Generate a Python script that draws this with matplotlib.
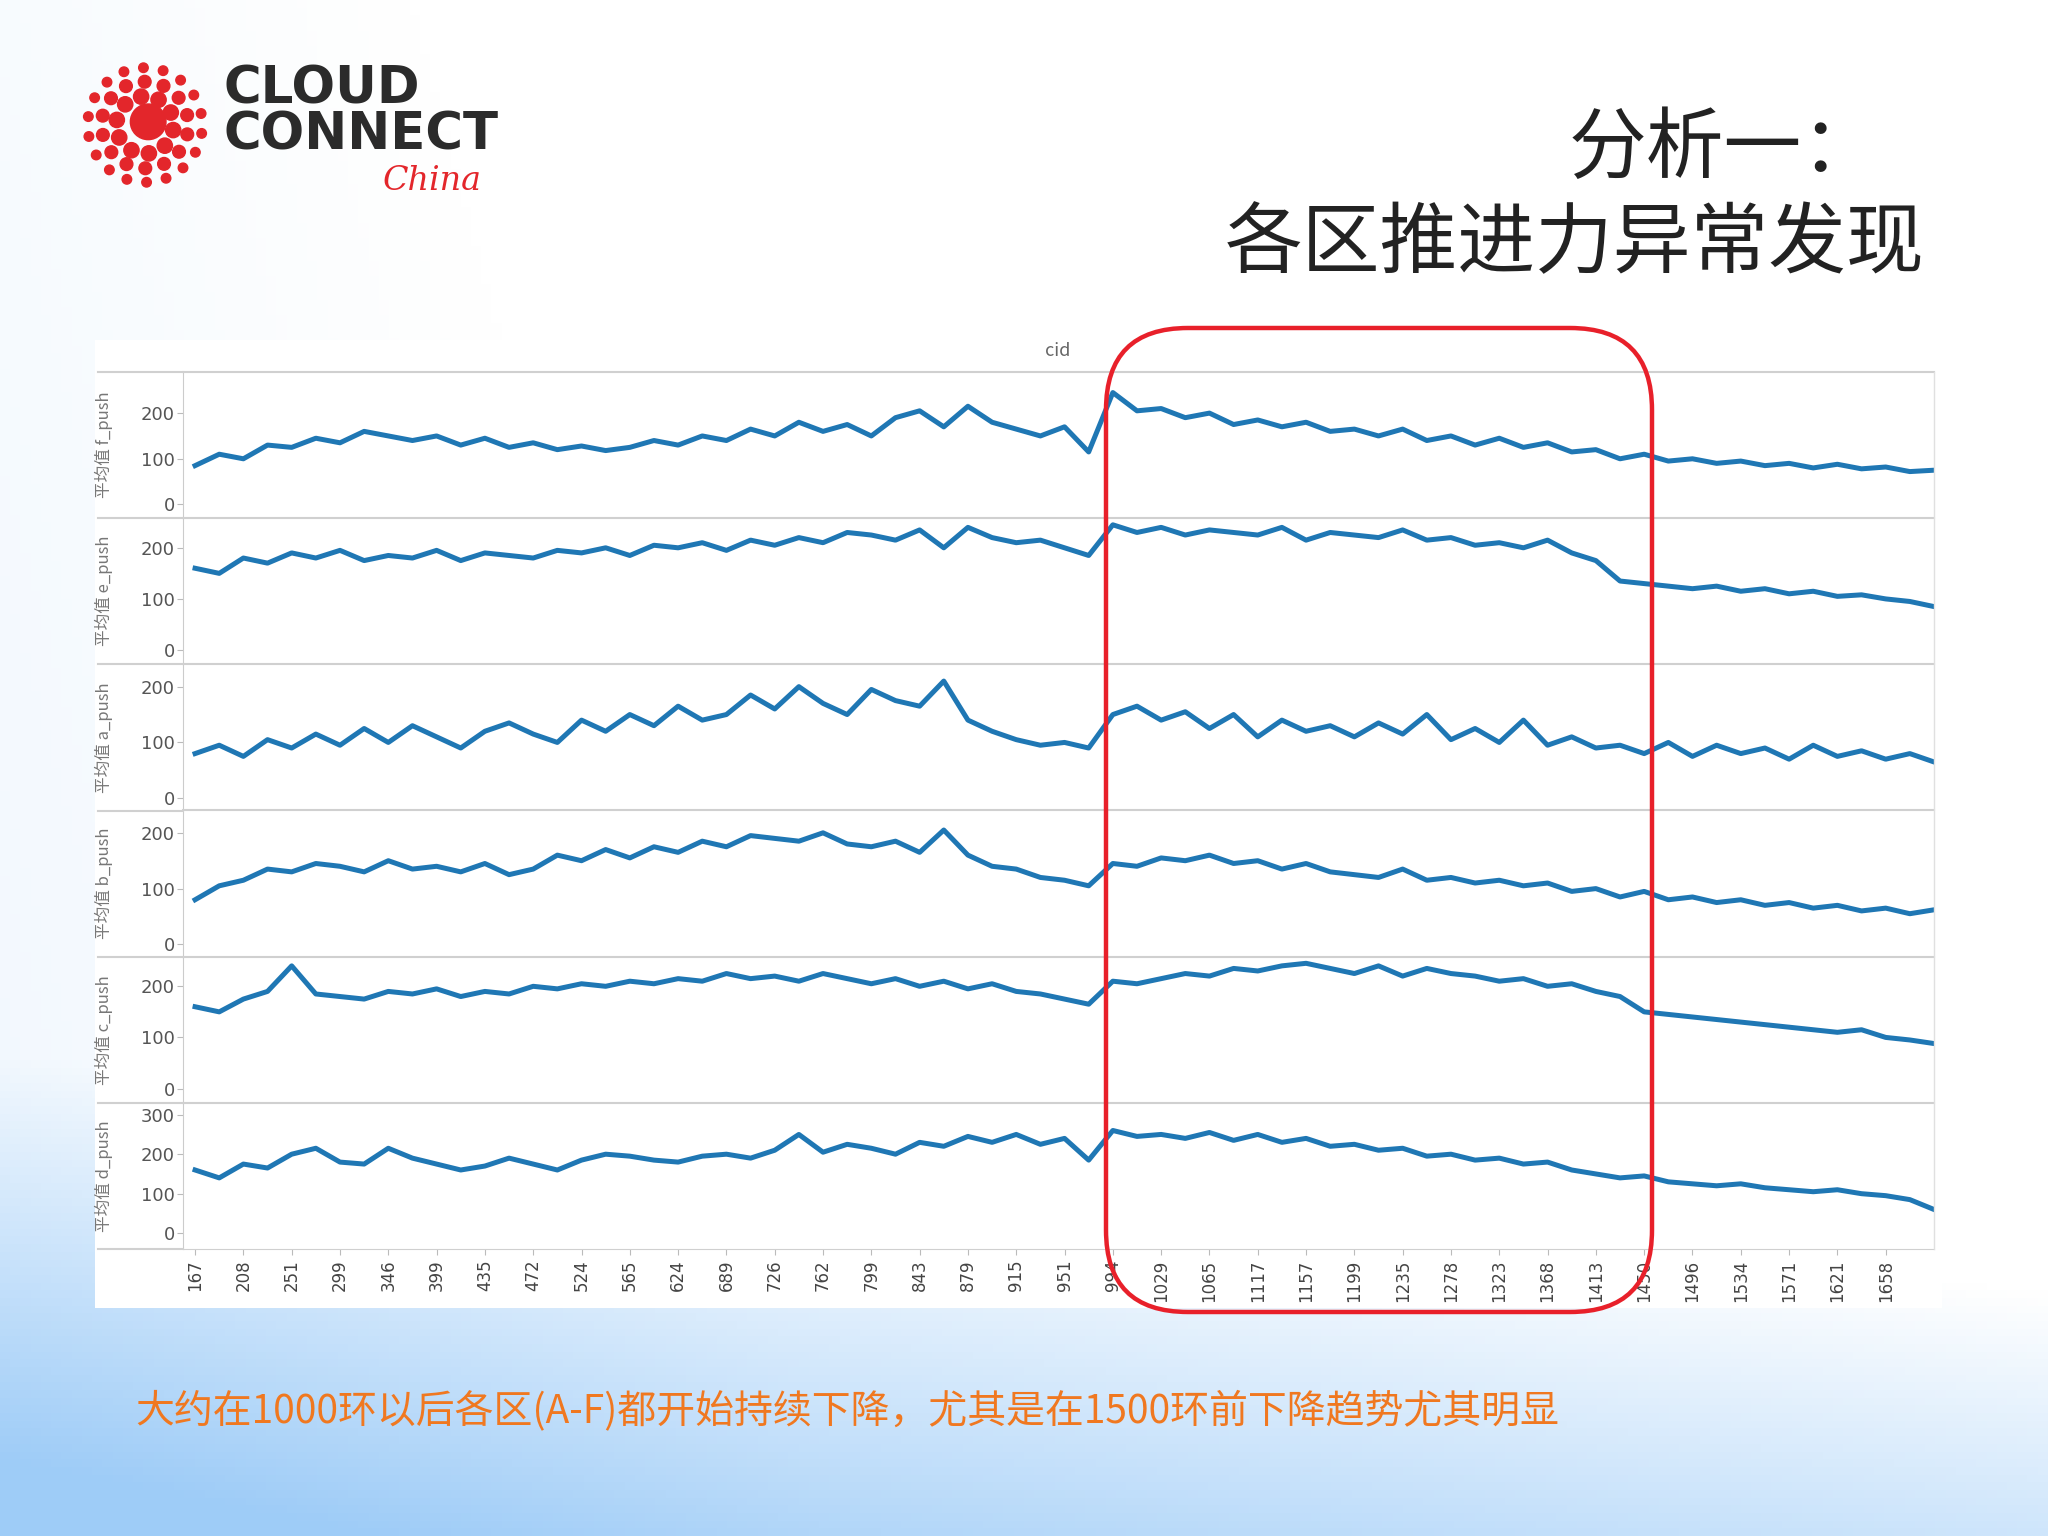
import numpy as np
import matplotlib
matplotlib.use("Agg")
import matplotlib.pyplot as plt
from matplotlib.patches import FancyBboxPatch, Circle

plt.rcParams['font.family'] = ['Noto Sans CJK SC', 'DejaVu Sans']

cid_ticks = ['167','208','251','299','346','399','435','472','524','565','624','689','726','762',
             '799','843','879','915','951','994','1029','1065','1117','1157','1199','1235','1278',
             '1323','1368','1413','1450','1496','1534','1571','1621','1658']

# values sampled every half tick (0, 0.5, ..., 36 in tick units)
f_push = [85,110,100,130,125,145,135,160,150,140,
          150,130,145,125,135,120,128,118,125,140,
          130,150,140,165,150,180,160,175,150,190,
          205,170,215,180,165,150,170,115,245,
          205,210,190,200,175,185,170,180,160,165,
          150,165,140,150,130,145,125,135,115,120,
          100,110,95,100,90,95,85,90,80,88,78,82,72,75]
e_push = [160,150,180,170,190,180,195,175,185,180,
          195,175,190,185,180,195,190,200,185,205,
          200,210,195,215,205,220,210,230,225,215,
          235,200,240,220,210,215,200,185,245,
          230,240,225,235,230,225,240,215,230,225,
          220,235,215,220,205,210,200,215,190,175,
          135,130,125,120,125,115,120,110,115,105,108,100,95,85]
a_push = [80,95,75,105,90,115,95,125,100,130,
          110,90,120,135,115,100,140,120,150,130,
          165,140,150,185,160,200,170,150,195,175,
          165,210,140,120,105,95,100,90,150,
          165,140,155,125,150,110,140,120,130,110,
          135,115,150,105,125,100,140,95,110,90,
          95,80,100,75,95,80,90,70,95,75,85,70,80,65]
b_push = [80,105,115,135,130,145,140,130,150,135,
          140,130,145,125,135,160,150,170,155,175,
          165,185,175,195,190,185,200,180,175,185,
          165,205,160,140,135,120,115,105,145,
          140,155,150,160,145,150,135,145,130,125,
          120,135,115,120,110,115,105,110,95,100,
          85,95,80,85,75,80,70,75,65,70,60,65,55,62]
c_push = [160,150,175,190,240,185,180,175,190,185,
          195,180,190,185,200,195,205,200,210,205,
          215,210,225,215,220,210,225,215,205,215,
          200,210,195,205,190,185,175,165,210,
          205,215,225,220,235,230,240,245,235,225,
          240,220,235,225,220,210,215,200,205,190,
          180,150,145,140,135,130,125,120,115,110,115,100,95,88]
d_push = [160,140,175,165,200,215,180,175,215,190,
          175,160,170,190,175,160,185,200,195,185,
          180,195,200,190,210,250,205,225,215,200,
          230,220,245,230,250,225,240,185,260,
          245,250,240,255,235,250,230,240,220,225,
          210,215,195,200,185,190,175,180,160,150,
          140,145,130,125,120,125,115,110,105,110,100,95,85,60]

series = [("平均值 f_push", f_push, (-30, 290), [0, 100, 200]),
          ("平均值 e_push", e_push, (-28, 258), [0, 100, 200]),
          ("平均值 a_push", a_push, (-22, 240), [0, 100, 200]),
          ("平均值 b_push", b_push, (-22, 240), [0, 100, 200]),
          ("平均值 c_push", c_push, (-28, 258), [0, 100, 200]),
          ("平均值 d_push", d_push, (-40, 330), [0, 100, 200, 300])]

W, H = 2048, 1536
fig = plt.figure(figsize=(20.48, 15.36), dpi=100)

# background: white with soft blue in lower-left
bg = fig.add_axes([0, 0, 1, 1], zorder=-10)
yy, xx = np.mgrid[0:1:200j, 0:1:200j]
grad = np.clip(1.0 - 3.2 * yy - 0.5 * xx, 0, 1) + 0.25 * np.clip(0.6 - 1.5 * xx - 0.3 * yy, 0, 1)
grad = np.clip(grad, 0, 1)
img = np.ones((200, 200, 3))
img[..., 0] = 1 - 0.38 * grad
img[..., 1] = 1 - 0.20 * grad
img[..., 2] = 1 - 0.03 * grad
bg.imshow(img, extent=[0, 1, 0, 1], origin='lower', aspect='auto')
bg.set_axis_off()

def fx(px): return px / W
def fy(py): return 1 - py / H

card = fig.add_axes([fx(95), fy(1308), fx(1942 - 95), (1308 - 340) / H], zorder=-5)
card.set_facecolor('white'); card.set_xticks([]); card.set_yticks([])
for s in card.spines.values(): s.set_visible(False)

left, right = 183, 1934
top, bottom = 372, 1249
ph = (bottom - top) / 6
n_ticks = len(cid_ticks)
for i, (lab, vals, ylim, yt) in enumerate(series):
    y0 = top + i * ph
    ax = fig.add_axes([fx(left), fy(y0 + ph), fx(right - left), ph / H])
    x = np.arange(len(vals)) * 0.5
    ax.plot(x, vals, color='#1f77b4', lw=3.6, solid_joinstyle='round')
    ax.set_xlim(-0.25, n_ticks)
    ax.set_ylim(*ylim)
    ax.set_yticks(yt)
    ax.set_yticklabels([str(v) for v in yt], fontsize=13, color='#555555', family='DejaVu Sans')
    ax.tick_params(axis='y', length=4, color='#bbbbbb', pad=2)
    ax.set_ylabel(lab, fontsize=12, color='#777777')
    ax.yaxis.set_label_coords(-0.040, 0.5)
    for s in ['right', 'bottom']: ax.spines[s].set_visible(False)
    ax.spines['left'].set_color('#cccccc')
    ax.spines['top'].set_color('#d0d0d0')
    ax.spines['top'].set_linewidth(1.5)
    ax.patch.set_alpha(0)
    if i < 5:
        ax.set_xticks([])
    else:
        ax.set_xticks(range(n_ticks))
        ax.set_xticklabels(cid_ticks, rotation=90, fontsize=12, color='#444444', family='DejaVu Sans')
        ax.tick_params(axis='x', length=4, color='#bbbbbb')
        ax.spines['bottom'].set_visible(True)
        ax.spines['bottom'].set_color('#d0d0d0')
    fig.add_artist(plt.Line2D([fx(98), fx(183)], [fy(y0), fy(y0)], color='#d0d0d0', lw=1.5))
fig.add_artist(plt.Line2D([fx(98), fx(183)], [fy(bottom), fy(bottom)], color='#d0d0d0', lw=1.5))
fig.add_artist(plt.Line2D([fx(1934), fx(1934)], [fy(top), fy(bottom)], color='#e0e0e0', lw=1))

fig.text(fx(1058), fy(351), "cid", fontsize=13, color='#666666', ha='center', va='center')

box = FancyBboxPatch((fx(1106), fy(1312)), fx(1652 - 1106), (1312 - 328) / H,
                     boxstyle="round,pad=0,rounding_size=0.04", transform=fig.transFigure,
                     fill=False, ec='#e8202a', lw=3.2, mutation_aspect=W / H)
fig.add_artist(box)

# logo
lax = fig.add_axes([fx(75), fy(195), fx(140), 140 / H])
lax.set_xlim(-1.1, 1.1); lax.set_ylim(-1.1, 1.1); lax.set_aspect('equal'); lax.set_axis_off()
lax.add_patch(Circle((0.05, 0.05), 0.28, color='#e3262b'))
for r, n, s in [(0.45, 10, 0.12), (0.68, 14, 0.1), (0.9, 18, 0.075)]:
    for k in range(n):
        a = 2 * np.pi * k / n + r
        lax.add_patch(Circle((r * np.cos(a), r * np.sin(a)), s, color='#e3262b'))
fig.text(fx(224), fy(89), "CLOUD", fontsize=37, fontweight='bold', color='#2b2b2b',
         family='DejaVu Sans', va='center')
fig.text(fx(224), fy(135), "CONNECT", fontsize=37, fontweight='bold', color='#2b2b2b',
         family='DejaVu Sans', va='center')
fig.text(fx(383), fy(181), "China", fontsize=24, style='italic', color='#e3262b',
         family='DejaVu Serif', va='center')

fig.text(fx(1880), fy(150), "分析一：", fontsize=56, color='#222222', ha='right', va='center')
fig.text(fx(1924), fy(245), "各区推进力异常发现", fontsize=56, color='#222222', ha='right', va='center')

fig.text(fx(135), fy(1411), "大约在1000环以后各区(A-F)都开始持续下降，尤其是在1500环前下降趋势尤其明显",
         fontsize=28, color='#f07820', va='center')

fig.savefig("out.png", dpi=100)
